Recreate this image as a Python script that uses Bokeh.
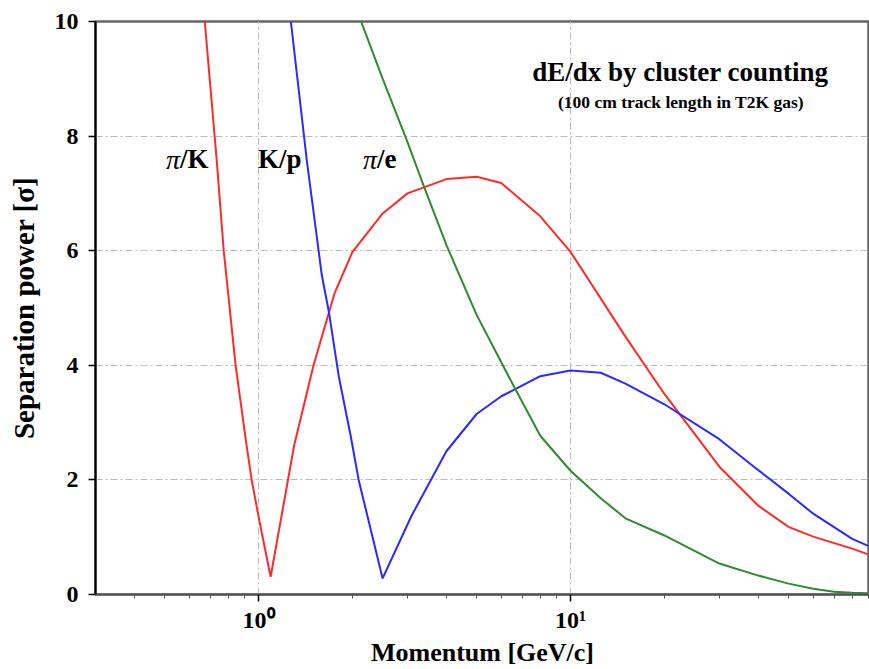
from bokeh.plotting import figure
from bokeh.models import FixedTicker, Label, Range1d
from bokeh.embed import file_html
from bokeh.resources import INLINE

# pi/K separation (red)
pk_p = [0.65, 0.672, 0.734, 0.773, 0.844, 0.909, 0.95, 1.007, 1.093, 1.3, 1.5, 1.75, 2.0, 2.5, 3.0, 4.0, 5.0, 6.0, 8.0, 10.0, 15.0, 20.0, 30.0, 40.0, 50.0, 60.0, 80.0, 90.0]
pk_s = [10.96, 10.0, 7.58, 6.0, 4.0, 2.71, 2.0, 1.27, 0.31, 2.6, 4.0, 5.25, 5.98, 6.65, 7.0, 7.25, 7.29, 7.18, 6.6, 5.98, 4.5, 3.5, 2.23, 1.55, 1.18, 1.01, 0.8, 0.7]

# K/p separation (blue)
kp_p = [1.2, 1.269, 1.427, 1.594, 1.679, 1.807, 1.973, 2.093, 2.498, 3.09, 4.0, 5.0, 6.0, 8.0, 10.0, 12.5, 15.0, 20.0, 30.0, 40.0, 50.0, 60.0, 80.0, 90.0]
kp_s = [11.15, 10.0, 7.58, 5.58, 4.94, 3.81, 2.77, 2.0, 0.28, 1.37, 2.5, 3.15, 3.46, 3.81, 3.91, 3.87, 3.68, 3.32, 2.71, 2.17, 1.76, 1.41, 0.97, 0.85]

# pi/e separation (green)
pe_p = [2.0, 2.5, 3.0, 3.4, 4.0, 5.0, 6.6, 8.0, 10.0, 12.5, 15.0, 20.0, 30.0, 40.0, 50.0, 60.0, 70.0, 80.0, 90.0]
pe_s = [10.4, 9.0, 7.9, 7.1, 6.1, 4.88, 3.62, 2.77, 2.16, 1.68, 1.33, 1.03, 0.54, 0.33, 0.19, 0.10, 0.05, 0.03, 0.02]

x_major = [1, 10]
x_major_labels = ["10\u2070", "10\u00b9"]
x_minor = [0.4, 0.5, 0.6, 0.7, 0.8, 0.9, 2, 3, 4, 5, 6, 7, 8, 9, 20, 30, 40, 50, 60, 70, 80, 90]
y_ticks = [0, 2, 4, 6, 8, 10]

FONT = "Liberation Serif"

p = figure(width=869, height=669, x_axis_type="log",
           x_range=Range1d(0.3, 90.9), y_range=Range1d(0, 10),
           output_backend="svg", toolbar_location=None,
           min_border_left=95, min_border_right=0, min_border_top=21, min_border_bottom=73)

p.line(pk_p, pk_s, line_color="#ff2a2a", line_width=2)
p.line(kp_p, kp_s, line_color="#2a2aff", line_width=2)
p.line(pe_p, pe_s, line_color="#2e8b2e", line_width=2)

p.xaxis.ticker = FixedTicker(ticks=x_major, minor_ticks=x_minor)
p.xaxis.major_label_overrides = {v: s for v, s in zip(x_major, x_major_labels)}
p.yaxis.ticker = FixedTicker(ticks=y_ticks)

for ax in (p.xaxis[0], p.yaxis[0]):
    ax.major_label_text_font = FONT
    ax.major_label_text_font_style = "bold"
    ax.major_label_text_font_size = "24px"
    ax.major_label_text_color = "black"
    ax.axis_label_text_font = FONT
    ax.axis_label_text_font_style = "bold"
    ax.axis_label_text_color = "black"
    ax.axis_line_width = 2
    ax.major_tick_line_width = 1.5
    ax.major_tick_out = 7
    ax.major_tick_in = 0

p.xaxis.axis_label = "Momentum [GeV/c]"
p.yaxis.axis_label = "Separation power [\u03c3]"
p.xaxis.axis_label_text_font_size = "26px"
p.yaxis.axis_label_text_font_size = "29px"
p.xaxis.axis_line_color = "#555555"
p.yaxis.axis_line_color = "black"
p.xaxis.minor_tick_out = 4
p.xaxis.minor_tick_in = 0
p.xaxis.minor_tick_line_color = "#555555"
p.yaxis.minor_tick_line_color = None
p.xaxis.major_label_standoff = 5
p.xaxis.axis_label_standoff = 2
p.yaxis.major_label_standoff = 10
p.yaxis.axis_label_standoff = 12

p.outline_line_color = "#666666"
p.outline_line_width = 2.5

for g in (p.xgrid[0], p.ygrid[0]):
    g.grid_line_color = "#bbbbbb"
    g.grid_line_width = 1
    g.grid_line_dash = "7 3 2 3"

# annotations
p.add_layout(Label(x=22.5, y=9.11, text="dE/dx by cluster counting", text_align="center",
                   text_baseline="middle", text_font=FONT, text_font_style="bold",
                   text_font_size="27px", text_color="black"))
p.add_layout(Label(x=22.6, y=8.59, text="(100 cm track length in T2K gas)", text_align="center",
                   text_baseline="middle", text_font=FONT, text_font_style="bold",
                   text_font_size="17.5px", text_color="black"))

curve_labels = [("\u03c0", "/K", 0.505), ("", "K/p", 0.995), ("\u03c0", "/e", 2.16)]
for sym, rest, xpos in curve_labels:
    if sym:
        p.add_layout(Label(x=xpos, y=7.6, text=sym, text_align="left", text_baseline="middle",
                           text_font=FONT, text_font_style="italic", text_font_size="28px",
                           text_color="black"))
        p.add_layout(Label(x=xpos, y=7.6, x_offset=14, text=rest, text_align="left",
                           text_baseline="middle", text_font=FONT, text_font_style="bold",
                           text_font_size="27px", text_color="black"))
    else:
        p.add_layout(Label(x=xpos, y=7.6, text=rest, text_align="left", text_baseline="middle",
                           text_font=FONT, text_font_style="bold", text_font_size="27px",
                           text_color="black"))

open("out.html", "w").write(file_html(p, INLINE))
